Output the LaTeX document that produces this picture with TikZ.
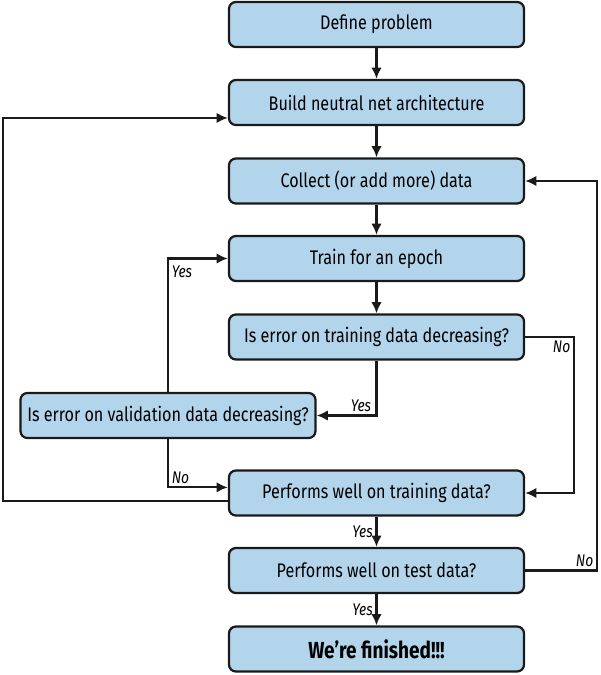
\documentclass[tikz,border=0pt]{standalone}
\usepackage{fontspec}
\setmainfont[FakeStretch=0.82]{Fira Sans}
\usetikzlibrary{arrows.meta, positioning, calc}
\definecolor{BoxBlue}{HTML}{B3D5EB}
\definecolor{EdgeBlack}{HTML}{1A1A1A}
\tikzset{
  flowbox/.style={draw=EdgeBlack, line width=1.6pt, rounded corners=5pt, fill=BoxBlue, align=center, minimum width=7.375cm, minimum height=1.125cm, inner sep=3pt, font=\fontsize{14}{16}\selectfont},
  answer/.style={font=\fontsize{12}{14}\selectfont\itshape, inner sep=2pt},
  arrow/.style={-{Latex[length=2.8mm, width=2.6mm]}, line width=1.5pt, draw=EdgeBlack}
}

\begin{document}
\begin{tikzpicture}[x=0.025cm, y=-0.025cm]
\useasboundingbox (0,0) rectangle (600,675);
\node[flowbox] (define) at (376.5,24.5) {Define problem};
\node[flowbox] (build) at (376.5,102.5) {Build neutral net architecture};
\node[flowbox] (collect) at (376.5,181) {Collect (or add more) data};
\node[flowbox] (train) at (376.5,258.5) {Train for an epoch};
\node[flowbox] (trainerr) at (376.5,337) {Is error on training data decreasing?};
\node[flowbox] (valerr) at (168,415.5) {Is error on validation data decreasing?};
\node[flowbox] (perftrain) at (376.5,493) {Performs well on training data?};
\node[flowbox] (perftest) at (376.5,570.5) {Performs well on test data?};
\node[flowbox, font=\fontsize{16.5}{18}\selectfont\bfseries] (done) at (376.5,649) {We’re finished!!!};
\draw[arrow] (define) -- (build);
\draw[arrow] (build) -- (collect);
\draw[arrow] (collect) -- (train);
\draw[arrow] (train) -- (trainerr);
\draw[arrow] (trainerr) |- node[answer, pos=0.63, above] {Yes} (valerr);
\draw[arrow] (valerr) |- node[answer, pos=0.45, right] {Yes} (train);
\draw[arrow] (valerr) |- node[answer, pos=0.4, right] {No} ([yshift=4pt]perftrain.west);
\draw[arrow] ([yshift=-6pt]perftrain.west) -- ++(-225,0) |- ([yshift=-11pt]build.west);
\draw[arrow] (trainerr.east) -- ++(49,0) node[answer, below left] {No} |- (perftrain.east);
\draw[arrow] (perftrain) -- node[answer, left] {Yes} (perftest);
\draw[arrow] (perftest.east) -- ++(72,0) node[answer, above left] {No} |- (collect.east);
\draw[arrow] (perftest) -- node[answer, left] {Yes} (done);
\end{tikzpicture}
\end{document}
